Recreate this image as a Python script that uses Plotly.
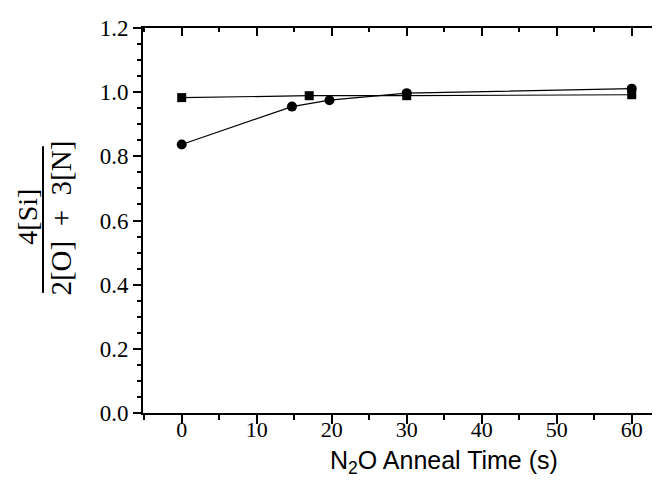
import plotly.graph_objects as go

# Data
time_sq = [0, 17, 30, 60]
ratio_sq = [0.983, 0.989, 0.989, 0.992]
time_ci = [0, 14.7, 19.7, 30, 60]
ratio_ci = [0.837, 0.955, 0.975, 0.997, 1.011]

x_tickvals = [0, 10, 20, 30, 40, 50, 60]
x_ticktext = ["0", "10", "20", "30", "40", "50", "60"]
y_tickvals = [0.0, 0.2, 0.4, 0.6, 0.8, 1.0, 1.2]
y_ticktext = ["0.0", "0.2", "0.4", "0.6", "0.8", "1.0", "1.2"]

x_title = "N<sub>2</sub>O Anneal Time (s)"
y_num = "4[Si]"
y_den = "2[O]&nbsp; + &nbsp;3[N]"

serif = "Liberation Serif"
sans = "Liberation Sans"

fig = go.Figure()
fig.add_trace(go.Scatter(
    x=time_sq, y=ratio_sq, mode="lines+markers",
    line=dict(color="black", width=1.2),
    marker=dict(symbol="square", size=9, color="black"),
    name="squares", showlegend=False))
fig.add_trace(go.Scatter(
    x=time_ci, y=ratio_ci, mode="lines+markers",
    line=dict(color="black", width=1.2),
    marker=dict(symbol="circle", size=10, color="black"),
    name="circles", showlegend=False))
fig.add_trace(go.Scatter(x=[], y=[], xaxis="x2", showlegend=False))

xr = [-5.16, 63.77]
fig.update_layout(
    width=660, height=497,
    margin=dict(l=135, r=8, t=11, b=92),
    plot_bgcolor="white", paper_bgcolor="white",
    xaxis=dict(
        range=xr, tickvals=x_tickvals, ticktext=x_ticktext,
        ticks="outside", ticklen=9, tickwidth=1.5, tickcolor="black",
        showline=True, linewidth=2, linecolor="black",
        showgrid=False, zeroline=False,
        tickfont=dict(family=serif, size=22, color="black"),
        ticklabelstandoff=-13, ticklabeloverflow="allow",
        minor=dict(dtick=5, tick0=0, ticks="outside", ticklen=5, tickwidth=1.5, tickcolor="black"),
    ),
    xaxis2=dict(
        range=xr, overlaying="x", side="top", anchor="y",
        tickvals=x_tickvals, showticklabels=False,
        ticks="inside", ticklen=8, tickwidth=1.5, tickcolor="black",
        showline=True, linewidth=2, linecolor="black",
        showgrid=False, zeroline=False,
        minor=dict(dtick=5, tick0=0, ticks="inside", ticklen=4, tickwidth=1.5, tickcolor="black"),
    ),
    yaxis=dict(
        range=[0, 1.2], tickvals=y_tickvals, ticktext=y_ticktext,
        ticks="outside", ticklen=8, tickwidth=1.5, tickcolor="black",
        showline=True, linewidth=2, linecolor="black",
        showgrid=False, zeroline=False,
        tickfont=dict(family=serif, size=23, color="black"),
        ticklabeloverflow="allow",
        minor=dict(dtick=0.05, tick0=0, ticks="outside", ticklen=4, tickwidth=1.5, tickcolor="black"),
    ),
)

fig.add_annotation(text=x_title, xref="paper", yref="paper", x=0.582, y=-0.127,
                   xanchor="center", yanchor="middle", showarrow=False,
                   font=dict(family=sans, size=25, color="black"))
fig.add_annotation(text=y_num, xref="paper", yref="paper", x=-0.2224, y=0.51,
                   xanchor="center", yanchor="middle", showarrow=False, textangle=-90,
                   font=dict(family=serif, size=28, color="black"))
fig.add_annotation(text=y_den, xref="paper", yref="paper", x=-0.1586, y=0.505,
                   xanchor="center", yanchor="middle", showarrow=False, textangle=-90,
                   font=dict(family=serif, size=29, color="black"))
fig.add_shape(type="line", xref="paper", yref="paper", x0=-0.1934, x1=-0.1934,
              y0=0.312, y1=0.693, line=dict(color="black", width=2))

fig.write_html("out.html")
